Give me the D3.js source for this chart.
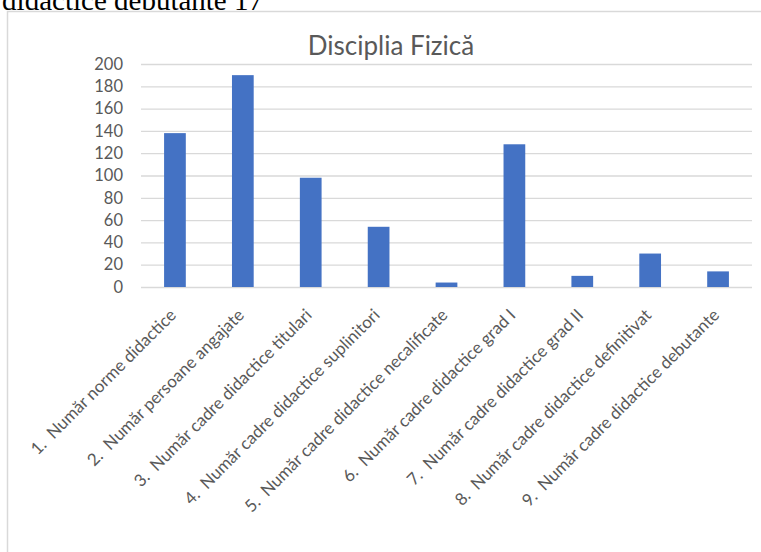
<!DOCTYPE html>
<html><head><meta charset="utf-8">
<script src="https://cdn.jsdelivr.net/npm/d3@7"></script>
<style>body{margin:0;background:#fff;overflow:hidden} svg{display:block}</style>
</head><body><svg id="c" width="761" height="552"></svg>
<script>
const categories = [
  "1.  Număr norme didactice",
  "2.  Număr persoane angajate",
  "3.  Număr cadre didactice titulari",
  "4.  Număr cadre didactice suplinitori",
  "5.  Număr cadre didactice necalificate",
  "6.  Număr cadre didactice grad I",
  "7.  Număr cadre didactice grad II",
  "8.  Număr cadre didactice definitivat",
  "9.  Număr cadre didactice debutante"
];
const values = [138, 190, 98, 54, 4, 128, 10, 30, 14];
const yTicks = [0, 20, 40, 60, 80, 100, 120, 140, 160, 180, 200];
const title = "Disciplia Fizică";
const headerText = "didactice debutante 17";

const svg = d3.select("#c");
const font = "Lato, 'Open Sans', sans-serif";
const grey = "#595959";

svg.append("text").attr("x", 263).attr("y", 10).attr("text-anchor", "end")
  .style("font-family", "'Liberation Serif', 'Times New Roman', serif")
  .style("font-size", "29px").attr("fill", "#000").text(headerText);

svg.append("rect").attr("x", 7.5).attr("y", 11.5).attr("width", 800).attr("height", 600)
  .attr("fill", "none").attr("stroke", "#d9d9d9").attr("stroke-width", 1.5);

const x = d3.scaleBand().domain(categories).range([141, 752]).paddingInner(0.68).paddingOuter(0.34);
const y = d3.scaleLinear().domain([0, 200]).range([287, 64]);

const yAxis = svg.append("g").attr("transform", "translate(141,0)")
  .call(d3.axisLeft(y).tickValues(yTicks).tickSize(-611).tickPadding(18));
yAxis.select(".domain").remove();
yAxis.selectAll(".tick line").attr("stroke", "#d9d9d9").attr("stroke-width", 1.3);
yAxis.selectAll(".tick text").attr("fill", grey).style("font-family", font).style("font-size", "16.5px");

svg.append("text").attr("x", 391).attr("y", 55).attr("text-anchor", "middle")
  .style("font-family", font).style("font-size", "26px").attr("fill", grey).text(title);

svg.append("g").selectAll("rect").data(values).join("rect")
  .attr("x", (d, i) => x(categories[i]))
  .attr("width", x.bandwidth())
  .attr("y", d => y(d))
  .attr("height", d => y(0) - y(d))
  .attr("fill", "#4472C4");

svg.append("g").selectAll("text").data(categories).join("text")
  .attr("transform", d => `translate(${x(d) + x.bandwidth() / 2 - 2},312) rotate(-45)`)
  .attr("text-anchor", "end").attr("dy", "0.35em")
  .style("font-family", font).style("font-size", "17px").attr("fill", grey)
  .style("white-space", "pre")
  .text(d => d);
</script></body></html>
